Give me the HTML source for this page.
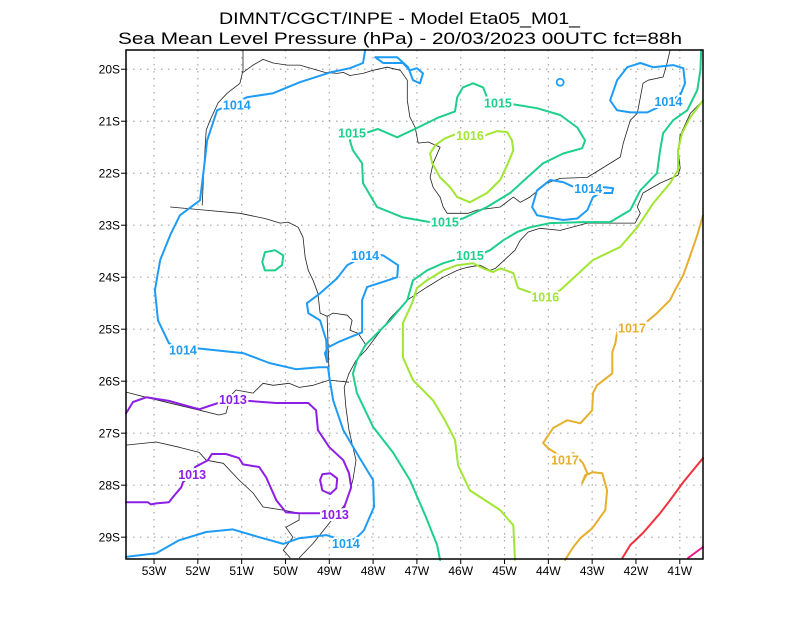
<!DOCTYPE html>
<html><head><meta charset="utf-8"><style>
html,body{margin:0;padding:0;background:#fff;}
svg{display:block;font-family:"Liberation Sans",sans-serif;}
</style></head><body>
<svg id="chart" width="800" height="618" viewBox="0 0 800 618" xmlns="http://www.w3.org/2000/svg">
<rect width="800" height="618" fill="#fff"/>
<text x="219" y="24" font-size="17" textLength="361" lengthAdjust="spacingAndGlyphs" fill="#000">DIMNT/CGCT/INPE -  Model Eta05_M01_</text>
<text x="118" y="44" font-size="17" textLength="564" lengthAdjust="spacingAndGlyphs" fill="#000">Sea Mean Level Pressure (hPa) - 20/03/2023 00UTC fct=88h</text>
<g id="grid"></g>
<g id="geo"></g>
<g id="contours"></g>
<g id="labels"></g>
<rect x="126" y="50" width="577" height="509" fill="none" stroke="#000" stroke-width="1.5"/>
<g id="axes"></g>
</svg>
<script>
const lonTicks = [-53,-52,-51,-50,-49,-48,-47,-46,-45,-44,-43,-42,-41];
const lonTickLabels = ["53W","52W","51W","50W","49W","48W","47W","46W","45W","44W","43W","42W","41W"];
const latTicks = [-20,-21,-22,-23,-24,-25,-26,-27,-28,-29];
const latTickLabels = ["20S","21S","22S","23S","24S","25S","26S","27S","28S","29S"];

const iso1014West = [[-48.18,-19.63],[-48.23,-19.88],[-48.53,-19.98],[-48.98,-20.06],[-49.67,-20.25],[-50.28,-20.46],[-50.88,-20.54],[-51.56,-20.79],[-51.79,-21.37],[-51.84,-21.75],[-51.95,-22.52],[-52.41,-22.81],[-52.63,-23.19],[-52.86,-23.67],[-52.98,-24.25],[-52.91,-24.83],[-52.66,-25.27],[-52.32,-25.40],[-52.00,-25.37],[-51.65,-25.40],[-50.97,-25.46],[-50.37,-25.65],[-49.76,-25.77],[-49.23,-25.73],[-49.03,-25.73],[-49.00,-25.92],[-48.91,-26.37],[-48.68,-26.94],[-48.32,-27.46],[-48.00,-27.90],[-47.98,-28.42],[-48.21,-28.87],[-48.39,-29.02],[-48.62,-29.08],[-48.84,-29.02],[-49.07,-28.96],[-49.69,-29.02],[-50.05,-29.13],[-50.60,-29.00],[-51.20,-28.85],[-51.81,-28.90],[-52.43,-29.06],[-52.95,-29.31],[-53.64,-29.38]];
const iso1014Inner = [[-49.05,-25.63],[-49.07,-25.21],[-49.21,-24.83],[-49.48,-24.69],[-49.51,-24.50],[-49.21,-24.31],[-48.82,-24.02],[-48.59,-23.77],[-48.18,-23.58],[-47.77,-23.58],[-47.43,-23.77],[-47.45,-24.00],[-48.14,-24.19],[-48.25,-24.44],[-48.25,-25.06],[-48.80,-25.25],[-49.03,-25.35],[-49.10,-25.46],[-49.05,-25.63]];
const iso1014North = [[-47.95,-19.77],[-47.45,-19.77],[-47.20,-19.96],[-47.09,-20.21],[-46.93,-20.27],[-46.86,-20.08],[-47.00,-19.98],[-47.16,-20.02],[-47.32,-19.88],[-47.77,-19.88],[-47.95,-19.77]];
const iso1014NE = [[-40.99,-20.50],[-40.88,-20.27],[-40.92,-19.98],[-41.15,-19.92],[-41.61,-19.96],[-41.90,-19.88],[-42.20,-19.96],[-42.43,-20.21],[-42.59,-20.60],[-42.43,-20.79],[-42.13,-20.83],[-41.74,-20.83],[-41.49,-20.73],[-41.26,-20.62],[-40.99,-20.50]];
const iso1014East = [[-42.54,-22.35],[-42.52,-22.29],[-42.70,-22.27],[-43.09,-22.29],[-43.46,-22.25],[-43.66,-22.17],[-43.96,-22.13],[-44.26,-22.33],[-44.37,-22.65],[-44.26,-22.81],[-43.66,-22.90],[-43.34,-22.87],[-43.11,-22.71],[-42.98,-22.46],[-42.82,-22.38],[-42.54,-22.38]];
const iso1014Dot = [[-43.73,-20.25]];
const iso1015Loop = [[-48.53,-21.37],[-48.46,-21.23],[-48.18,-21.23],[-47.89,-21.15],[-47.45,-21.31],[-47.00,-21.13],[-46.54,-20.94],[-46.13,-20.81],[-46.08,-20.54],[-45.95,-20.35],[-45.72,-20.27],[-45.49,-20.35],[-45.40,-20.54],[-45.15,-20.65],[-44.83,-20.67],[-44.26,-20.75],[-43.73,-20.88],[-43.34,-21.12],[-43.16,-21.37],[-43.23,-21.52],[-43.66,-21.62],[-44.12,-21.81],[-44.48,-22.08],[-44.87,-22.38],[-45.40,-22.65],[-45.95,-22.87],[-46.36,-22.94],[-46.70,-22.94],[-47.32,-22.85],[-47.91,-22.65],[-48.23,-22.19],[-48.25,-21.81],[-48.46,-21.56],[-48.53,-21.37]];
const iso1015Coast = [[-46.47,-29.44],[-46.54,-29.15],[-46.81,-28.58],[-47.16,-27.90],[-47.54,-27.38],[-48.00,-26.88],[-48.37,-26.23],[-48.46,-25.85],[-48.37,-25.60],[-48.18,-25.31],[-47.91,-25.08],[-47.61,-24.83],[-47.22,-24.44],[-47.09,-24.06],[-46.77,-23.87],[-46.40,-23.73],[-45.79,-23.58],[-45.49,-23.54],[-45.33,-23.48],[-45.03,-23.29],[-44.71,-23.13],[-44.42,-23.04],[-43.96,-22.96],[-43.21,-22.94],[-42.59,-22.94],[-42.13,-22.71],[-41.90,-22.33],[-41.52,-22.00],[-41.45,-21.56],[-41.38,-21.23],[-41.15,-20.98],[-40.83,-20.79],[-40.60,-20.40],[-40.53,-20.02],[-40.51,-19.63]];
const iso1015Small = [[-50.53,-23.71],[-50.47,-23.52],[-50.24,-23.48],[-50.05,-23.58],[-50.08,-23.77],[-50.24,-23.87],[-50.47,-23.87],[-50.53,-23.71]];
const iso1016Loop = [[-45.79,-21.27],[-45.51,-21.29],[-45.17,-21.19],[-44.94,-21.21],[-44.83,-21.37],[-44.80,-21.56],[-44.92,-21.81],[-45.10,-22.13],[-45.40,-22.38],[-45.79,-22.56],[-46.08,-22.46],[-46.24,-22.27],[-46.47,-22.08],[-46.65,-21.81],[-46.70,-21.62],[-46.58,-21.46],[-46.36,-21.33],[-46.06,-21.23],[-45.79,-21.27]];
const iso1016Coast = [[-44.76,-29.44],[-44.80,-28.77],[-45.10,-28.48],[-45.79,-28.10],[-46.06,-27.62],[-46.13,-27.13],[-46.36,-26.75],[-46.63,-26.37],[-47.09,-25.98],[-47.32,-25.54],[-47.32,-24.88],[-47.11,-24.50],[-47.00,-24.21],[-46.77,-24.06],[-46.40,-23.87],[-46.08,-23.77],[-45.72,-23.73],[-45.49,-23.83],[-45.26,-23.90],[-45.10,-23.83],[-44.80,-23.92],[-44.69,-24.21],[-44.35,-24.31],[-44.07,-24.38],[-43.73,-24.25],[-42.98,-23.67],[-42.36,-23.42],[-41.97,-23.04],[-41.61,-22.58],[-41.22,-22.19],[-41.04,-21.94],[-41.04,-21.56],[-40.95,-21.23],[-40.76,-20.92],[-40.47,-20.60]];
const iso1017 = [[-40.47,-22.81],[-40.60,-23.19],[-40.76,-23.58],[-40.92,-23.96],[-41.11,-24.25],[-41.22,-24.44],[-41.52,-24.69],[-41.84,-24.92],[-42.09,-24.98],[-42.43,-25.06],[-42.47,-25.27],[-42.54,-25.44],[-42.54,-25.85],[-42.89,-26.08],[-42.98,-26.23],[-43.00,-26.56],[-43.27,-26.81],[-43.57,-26.75],[-43.89,-26.90],[-44.12,-27.19],[-44.00,-27.29],[-43.84,-27.38],[-43.62,-27.52],[-43.43,-27.38],[-43.34,-27.46],[-43.21,-27.58],[-43.11,-27.77],[-43.23,-27.96],[-43.16,-27.81],[-42.98,-27.75],[-42.77,-27.77],[-42.66,-28.10],[-42.70,-28.48],[-43.00,-28.83],[-43.27,-29.02],[-43.43,-29.19],[-43.62,-29.44]];
const iso1018 = [[-40.47,-27.48],[-40.92,-27.94],[-41.22,-28.29],[-41.45,-28.54],[-41.84,-28.92],[-42.13,-29.15],[-42.31,-29.40]];
const iso1019 = [[-40.47,-29.19],[-40.81,-29.40]];
const iso1013 = [[-53.64,-26.62],[-53.48,-26.40],[-53.18,-26.31],[-52.66,-26.38],[-51.97,-26.54],[-51.47,-26.40],[-51.20,-26.35],[-50.85,-26.38],[-50.21,-26.42],[-49.48,-26.42],[-49.30,-26.56],[-49.26,-26.94],[-49.00,-27.27],[-48.68,-27.52],[-48.55,-27.77],[-48.50,-28.04],[-48.62,-28.33],[-48.68,-28.48],[-48.87,-28.56],[-49.23,-28.54],[-49.69,-28.54],[-49.99,-28.52],[-50.21,-28.29],[-50.44,-27.85],[-50.60,-27.65],[-50.97,-27.60],[-51.06,-27.48],[-51.36,-27.40],[-51.68,-27.40],[-51.77,-27.52],[-52.06,-27.65],[-52.13,-27.79],[-52.34,-27.94],[-52.38,-28.04],[-52.57,-28.23],[-52.66,-28.33],[-52.95,-28.35],[-53.07,-28.37],[-53.14,-28.33],[-53.64,-28.33]];
const iso1013Small = [[-49.21,-27.90],[-49.16,-27.79],[-48.98,-27.77],[-48.82,-27.87],[-48.84,-28.06],[-48.98,-28.17],[-49.16,-28.10],[-49.21,-27.90]];

const coastLine = [[-49.69,-29.40],[-49.37,-29.12],[-49.00,-28.73],[-48.62,-28.35],[-48.46,-27.90],[-48.39,-27.52],[-48.46,-27.27],[-48.55,-26.94],[-48.62,-26.50],[-48.66,-26.12],[-48.55,-25.85],[-48.39,-25.60],[-48.16,-25.40],[-47.91,-25.12],[-47.61,-24.79],[-47.22,-24.44],[-46.77,-24.19],[-46.40,-24.00],[-46.08,-23.87],[-45.85,-23.81],[-45.56,-23.77],[-45.33,-23.87],[-45.21,-23.83],[-44.94,-23.62],[-44.76,-23.48],[-44.64,-23.29],[-44.46,-23.13],[-44.19,-23.06],[-43.73,-23.10],[-43.11,-22.96],[-42.59,-22.96],[-42.02,-22.96],[-41.90,-22.77],[-41.97,-22.65],[-41.84,-22.38],[-41.45,-22.19],[-41.04,-22.04],[-40.99,-21.90],[-41.04,-21.56],[-40.99,-21.27],[-40.76,-20.85],[-40.47,-20.60]];
const borderNW = [[-50.97,-19.63],[-50.97,-20.02],[-51.04,-20.27],[-51.33,-20.46],[-51.54,-20.65],[-51.72,-20.98],[-51.81,-21.17],[-51.86,-21.85],[-51.90,-22.62]];
const borderNorth = [[-50.97,-20.06],[-50.74,-19.92],[-50.51,-19.81],[-50.28,-19.88],[-49.96,-19.92],[-49.67,-19.92],[-49.10,-20.06],[-48.82,-20.08],[-48.68,-20.06],[-48.53,-20.12],[-48.23,-20.08],[-48.00,-20.02],[-47.68,-19.96],[-47.38,-20.02],[-47.22,-20.21],[-47.22,-20.60],[-47.16,-20.92],[-47.04,-21.12],[-46.97,-21.42],[-46.74,-21.40],[-46.47,-21.50],[-46.63,-21.81],[-46.70,-22.08],[-46.63,-22.27],[-46.47,-22.46],[-46.40,-22.65],[-46.31,-22.77],[-45.83,-22.77],[-45.63,-22.71],[-45.10,-22.65],[-44.80,-22.46],[-44.64,-22.56],[-44.42,-22.46],[-44.03,-22.19],[-43.73,-22.10],[-43.11,-22.08],[-42.36,-21.69],[-42.29,-21.42],[-42.13,-20.98],[-41.97,-20.85],[-41.84,-20.27],[-41.72,-20.21],[-41.38,-20.15],[-41.29,-19.88],[-41.22,-19.63]];
const borderParana = [[-52.63,-22.65],[-51.84,-22.71],[-51.04,-22.77],[-50.47,-22.87],[-50.12,-22.96],[-49.94,-22.94],[-49.71,-23.04],[-49.60,-23.23],[-49.55,-23.62],[-49.48,-23.87],[-49.37,-24.06],[-49.26,-24.31],[-49.21,-24.69],[-49.05,-24.75],[-49.00,-25.98]];
const borderSPPR = [[-49.05,-24.75],[-48.91,-24.69],[-48.59,-24.73],[-48.48,-24.83],[-48.53,-25.02],[-48.34,-25.08],[-48.16,-25.31]];
const borderArgentina = [[-48.55,-26.02],[-49.00,-25.98],[-49.37,-26.08],[-49.69,-26.12],[-49.92,-26.04],[-50.28,-26.08],[-50.51,-26.04],[-50.74,-26.23],[-51.13,-26.17],[-51.24,-26.27],[-51.36,-26.62],[-51.52,-26.65],[-51.95,-26.56],[-53.09,-26.33],[-53.64,-26.21]];
const borderUruguay = [[-53.64,-27.23],[-52.95,-27.17],[-52.43,-27.27],[-51.97,-27.37],[-51.81,-27.52],[-51.42,-27.58],[-51.06,-27.90],[-50.74,-28.15],[-50.51,-28.42],[-50.05,-28.48],[-49.69,-28.54],[-49.69,-28.67],[-49.99,-28.81],[-49.83,-29.00],[-50.05,-29.25],[-49.89,-29.40]];

const labelText = ["1014","1014","1014","1014","1014","1014","1015","1015","1015","1015","1016","1016","1017","1017","1013","1013","1013"];
const labelLon = [-51.11,-52.34,-48.18,-48.62,-43.09,-41.26,-48.48,-45.15,-46.36,-45.79,-45.79,-44.07,-42.09,-43.62,-51.20,-52.13,-48.87];
const labelLat = [-20.69,-25.40,-23.58,-29.12,-22.29,-20.62,-21.23,-20.65,-22.94,-23.58,-21.27,-24.38,-24.98,-27.52,-26.35,-27.79,-28.56];

const NS = "http://www.w3.org/2000/svg";
const X0 = 126, X1 = 703, Y0 = 50, Y1 = 559;
const LON0 = -53.64, LON1 = -40.47, LAT0 = -19.63, LAT1 = -29.42;
function xs(lon){ return X0 + (lon - LON0) / (LON1 - LON0) * (X1 - X0); }
function ys(lat){ return Y0 + (lat - LAT0) / (LAT1 - LAT0) * (Y1 - Y0); }
const COLORS = {"1013":"#8c1ee6","1014":"#1e9cf5","1015":"#1ecf8c","1016":"#a0e632","1017":"#e6af2d","1018":"#f0323c","1019":"#f0148c"};
function mk(tag, parent, attrs){ const e = document.createElementNS(NS, tag); for (const k in attrs) e.setAttribute(k, attrs[k]); parent.appendChild(e); return e; }
function pathD(pts){ return pts.map((p,i)=>(i?"L":"M")+xs(p[0]).toFixed(1)+","+ys(p[1]).toFixed(1)).join(""); }

const grid = document.getElementById("grid");
const axes = document.getElementById("axes");
lonTicks.forEach((lon,i)=>{
  const x = xs(lon);
  const g = mk("line", grid, {x1:x,y1:Y0,x2:x,y2:Y1,stroke:"#a8a8a8","stroke-width":1.2,"stroke-dasharray":"1.5,5.5"});
  
  
  const t = mk("line", axes, {x1:x,y1:Y1,x2:x,y2:Y1+5,stroke:"#000","stroke-width":1});
  
  
  const l = mk("text", axes, {x:x,y:575,"text-anchor":"middle","font-size":12,fill:"#000"});
  l.textContent = lonTickLabels[i];
  
  
});
latTicks.forEach((lat,i)=>{
  const y = ys(lat);
  const g = mk("line", grid, {x1:X0,y1:y,x2:X1,y2:y,stroke:"#a8a8a8","stroke-width":1.2,"stroke-dasharray":"1.5,5.5"});
  
  
  const t = mk("line", axes, {x1:X0-5,y1:y,x2:X0,y2:y,stroke:"#000","stroke-width":1});
  
  
  const l = mk("text", axes, {x:120,y:y+4.5,"text-anchor":"end","font-size":12,fill:"#000"});
  l.textContent = latTickLabels[i];
  
  
});

const geo = document.getElementById("geo");
[coastLine, borderNW, borderNorth, borderParana, borderSPPR, borderArgentina, borderUruguay].forEach(pts=>{
  const p = mk("path", geo, {d:pathD(pts),fill:"none",stroke:"#222","stroke-width":0.8,"stroke-linejoin":"round"});
  
  
});

const cont = document.getElementById("contours");
const isoSets = [["1014",iso1014West],["1014",iso1014Inner],["1014",iso1014North],["1014",iso1014NE],["1014",iso1014East],["1015",iso1015Loop],["1015",iso1015Coast],["1015",iso1015Small],["1016",iso1016Loop],["1016",iso1016Coast],["1017",iso1017],["1018",iso1018],["1019",iso1019],["1013",iso1013],["1013",iso1013Small]];
isoSets.forEach(s=>{
  const p = mk("path", cont, {d:pathD(s[1]),fill:"none",stroke:COLORS[s[0]],"stroke-width":2,"stroke-linejoin":"round","stroke-linecap":"round"});
  
  
});
iso1014Dot.forEach(pt=>{
  const c = mk("circle", cont, {cx:xs(pt[0]),cy:ys(pt[1]),r:3.5,fill:"none",stroke:COLORS["1014"],"stroke-width":1.8});
  
  
});

const labs = document.getElementById("labels");
labelText.forEach((txt,i)=>{
  const t = mk("text", labs, {x:xs(labelLon[i]),y:ys(labelLat[i])+4.5,"text-anchor":"middle","font-size":12.5,"font-weight":"bold",fill:COLORS[txt],stroke:"#fff","stroke-width":4,"paint-order":"stroke"});
  t.textContent = txt;
  
  
});
</script>
</body></html>
